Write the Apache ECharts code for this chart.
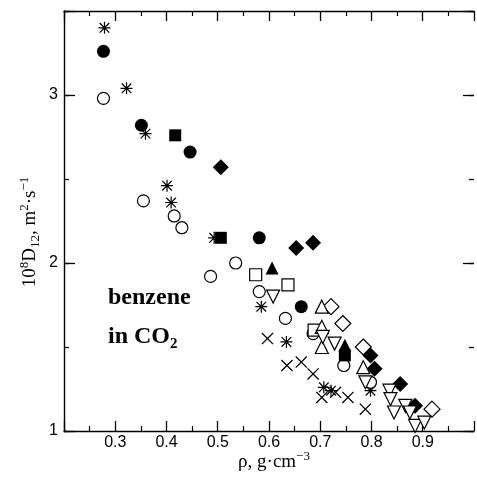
<!DOCTYPE html>
<html><head><meta charset="utf-8">
<script src="https://cdn.jsdelivr.net/npm/echarts@6/dist/echarts.min.js"></script>
<style>html,body{margin:0;padding:0;background:#fff}#c{width:477px;height:482px}</style>
</head><body><div id="c"></div>
<script>
const xTickLabels = ['0.3','0.4','0.5','0.6','0.7','0.8','0.9'];
const yTickLabels = ['1','2','3'];

const stars = [[0.279,3.40],[0.322,3.04],[0.359,2.77],[0.401,2.46],[0.409,2.36],[0.493,2.15],[0.585,1.74],[0.634,1.53],[0.707,1.26],[0.721,1.24],[0.798,1.24]];
const filledCircles = [[0.277,3.26],[0.351,2.82],[0.446,2.66],[0.581,2.15],[0.663,1.74]];
const openCircles = [[0.277,2.98],[0.355,2.37],[0.415,2.28],[0.430,2.21],[0.486,1.92],[0.535,2.00],[0.581,1.83],[0.632,1.67],[0.686,1.58],[0.746,1.39],[0.798,1.29]];
const filledSquares = [[0.417,2.76],[0.506,2.15],[0.748,1.45]];
const openSquares = [[0.574,1.93],[0.637,1.87],[0.688,1.60]];
const filledDiamonds = [[0.506,2.57],[0.653,2.09],[0.686,2.12],[0.798,1.45],[0.806,1.37],[0.856,1.28],[0.885,1.15]];
const openDiamonds = [[0.721,1.74],[0.744,1.64],[0.784,1.50],[0.918,1.13]];
const filledTriangles = [[0.606,1.97],[0.748,1.51]];
const openTriangles = [[0.703,1.74],[0.703,1.62],[0.703,1.50],[0.784,1.38]];
const openDownTriangles = [[0.608,1.80],[0.705,1.56],[0.728,1.52],[0.788,1.29],[0.835,1.24],[0.837,1.19],[0.844,1.11],[0.866,1.15],[0.875,1.11],[0.885,1.03],[0.903,1.05]];
const crosses = [[0.597,1.55],[0.635,1.39],[0.663,1.41],[0.686,1.34],[0.703,1.20],[0.730,1.23],[0.754,1.20],[0.788,1.13]];

const STAR = 'path://M9 0L11 0L11 20L9 20Z M0 9L20 9L20 11L0 11Z M1.3 2.7L2.7 1.3L18.7 17.3L17.3 18.7Z M17.3 1.3L18.7 2.7L2.7 18.7L1.3 17.3Z';
const CROSS = 'path://M0 1.5L1.5 0L20 18.5L18.5 20Z M18.5 0L20 1.5L1.5 20L0 18.5Z';

const chart = echarts.init(document.getElementById('c'), null, {renderer:'canvas'});
const axisLine = {show:true, lineStyle:{color:'#000', width:1.4}};
const serifFont = 'Liberation Serif';
const sansFont = 'Liberation Sans';

function xAx(pos, labels) {
  return {type:'value', min:0.2, max:1.0, interval:0.1, position:pos,
    axisLine: axisLine,
    axisTick:{show:true, inside:true, length:10, lineStyle:{color:'#000', width:1.3}},
    minorTick:{show:true, splitNumber:2, length:5, lineStyle:{color:'#000', width:1.2}},
    splitLine:{show:false}, minorSplitLine:{show:false},
    axisLabel:{show:labels, color:'#000', fontSize:16, fontFamily:sansFont, margin:4,
      formatter: v => { const s = (+v).toFixed(1); return xTickLabels.includes(s) ? s : ''; }}
  };
}
function yAx(pos, labels, interval, len, idx) {
  return {type:'value', min:1, max:3.5, interval:interval, position:pos,
    axisLine: idx===0 ? axisLine : {show:false},
    axisTick:{show:true, inside:true, length:len, lineStyle:{color:'#000', width:1.3}},
    splitLine:{show:false},
    axisLabel:{show:labels, color:'#000', fontSize:16, fontFamily:sansFont, margin:6,
      formatter: v => { const s = String(+v); return yTickLabels.includes(s) ? s : ''; }}
  };
}

function sc(data, symbol, size, open, rotate) {
  return {type:'scatter', data:data, symbol:symbol, symbolSize:size, symbolRotate: rotate||0,
    xAxisIndex:0, yAxisIndex:0, animation:false, silent:true,
    itemStyle: open ? {color:'#fff', borderColor:'#000', borderWidth:1.2, opacity:1}
                    : {color:'#000', opacity:1}};
}

const sp = {fontSize:13, fontFamily:serifFont, color:'#000', verticalAlign:'top', lineHeight:24};
const sb = {fontSize:13, fontFamily:serifFont, color:'#000', verticalAlign:'bottom', lineHeight:24};
const nn = {fontSize:19, fontFamily:serifFont, color:'#000', verticalAlign:'middle', lineHeight:24};

chart.setOption({
  backgroundColor:'#fff',
  animation:false,
  grid:{left:64, right:-2, top:11, bottom:51, containLabel:false},
  xAxis:[xAx('bottom', true), xAx('top', false)],
  yAxis:[yAx('left', true, 1, 11, 0), yAx('right', false, 1, 11, 1), yAx('left', false, 0.5, 5, 2), yAx('right', false, 0.5, 5, 3)],
  series:[
    sc(crosses, CROSS, 12, false),
    sc(stars, STAR, 12, false),
    sc(filledCircles, 'circle', 13, false),
    sc(openCircles, 'circle', 12, true),
    sc(filledSquares, 'rect', 12, false),
    sc(openSquares, 'rect', 12, true),
    sc(openDiamonds, 'diamond', 16, true),
    sc(filledDiamonds, 'diamond', 16, false),
    sc(openTriangles, 'triangle', 13, true),
    sc(filledTriangles, 'triangle', 13, false),
    sc(openDownTriangles, 'triangle', 13, true, 180)
  ],
  graphic:[
    {type:'text', x:30, y:232, rotation:Math.PI/2, silent:true,
      style:{text:'{n|10}{s|8}{n|D}{b|12}{n|, m}{s|2}{n|·s}{s|−1}', align:'center', verticalAlign:'middle',
        rich:{n:nn, s:sp, b:sb}}},
    {type:'text', x:274, y:462, silent:true,
      style:{text:'{n|ρ, g·cm}{s|−3}', align:'center', verticalAlign:'middle', rich:{n:nn, s:sp}}},
    {type:'text', x:108, y:298, silent:true,
      style:{text:'benzene', font:'bold 24px "Liberation Serif"', fill:'#000', align:'left', verticalAlign:'middle'}},
    {type:'text', x:108, y:337, silent:true,
      style:{text:'{n|in CO}{b|2}', align:'left', verticalAlign:'middle',
        rich:{n:{fontSize:24, fontWeight:'bold', fontFamily:serifFont, color:'#000', verticalAlign:'middle', lineHeight:30},
              b:{fontSize:15, fontWeight:'bold', fontFamily:serifFont, color:'#000', verticalAlign:'bottom', lineHeight:30}}}}
  ]
});
</script></body></html>
